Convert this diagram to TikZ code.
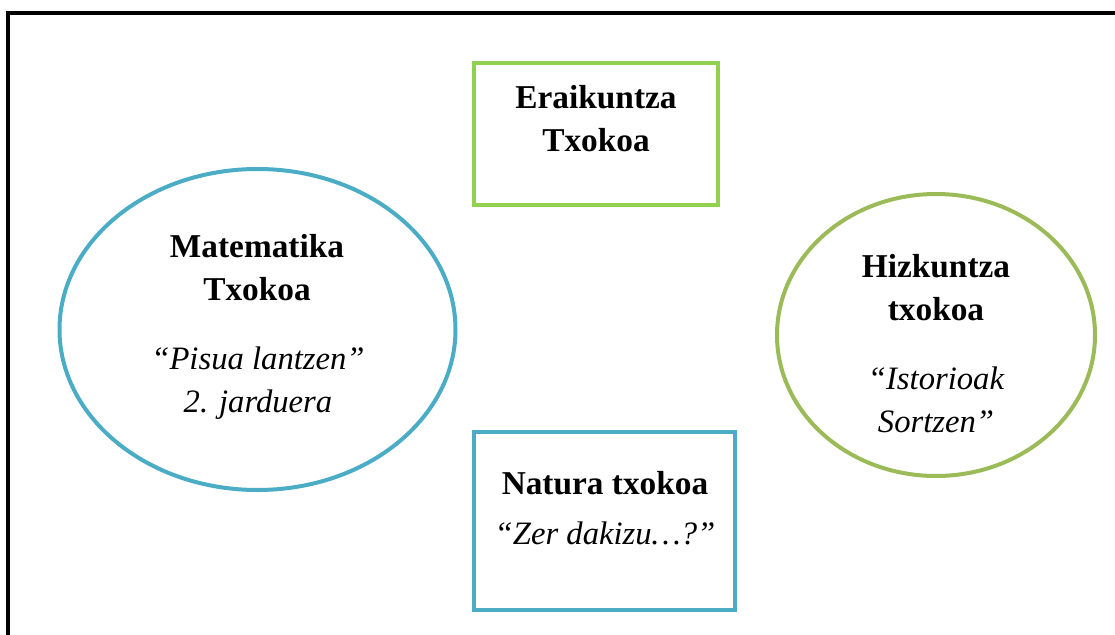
\documentclass[tikz,border=0pt]{standalone}
\usepackage{fontspec}
\setmainfont{Liberation Serif}
\usepackage{xcolor}
\usepackage{tikz}
\usetikzlibrary{shapes.geometric,positioning}
\definecolor{txgreen}{HTML}{92D050}
\definecolor{txblue}{HTML}{4BACC6}
\definecolor{txolive}{HTML}{9BBB59}

\begin{document}
\begin{tikzpicture}[x=0.75pt,y=-0.75pt,
    corner/.style={draw, line width=3pt, rectangle, inner sep=0pt},
    oval/.style={draw, line width=3pt, ellipse, inner sep=0pt},
    title/.style={font=\fontsize{25}{32.6}\selectfont\bfseries, align=center, inner sep=0pt},
    subtitle/.style={font=\fontsize{24.5}{32.6}\selectfont\itshape, align=center, inner sep=0pt}]
    \useasboundingbox (0,0) rectangle (1115,635);
    \draw[line width=2.4pt] (8,640) -- (8,13) -- (1120,13);

    \node[corner, draw=txgreen, minimum width=183pt, minimum height=106.5pt] (eraikuntza) at (596,134) {};
    \node[title] (eraikuntzaT) at (596,118.8) {Eraikuntza\\Txokoa};

    \node[oval, draw=txblue, minimum width=297pt, minimum height=240.75pt] (matematika) at (257.5,329.5) {};
    \node[title] (matematikaT) at (257,267.5) {Matematika\\Txokoa};
    \node[subtitle] (matematikaS) at (258,383.3) {“Pisua lantzen”\\2. jarduera};

    \node[oval, draw=txolive, minimum width=238.5pt, minimum height=211.5pt] (hizkuntza) at (936,335) {};
    \node[title] (hizkuntzaT) at (936,287.5) {Hizkuntza\\txokoa};
    \node[subtitle] (hizkuntzaS) at (936,399.8) {“Istorioak\\Sortzen”};

    \node[corner, draw=txblue, minimum width=195.75pt, minimum height=133.5pt] (natura) at (604.5,521) {};
    \node[title] (naturaT) at (605,483) {Natura txokoa};
    \node[subtitle] (naturaS) at (605,533) {“Zer dakizu…?”};
\end{tikzpicture}
\end{document}
